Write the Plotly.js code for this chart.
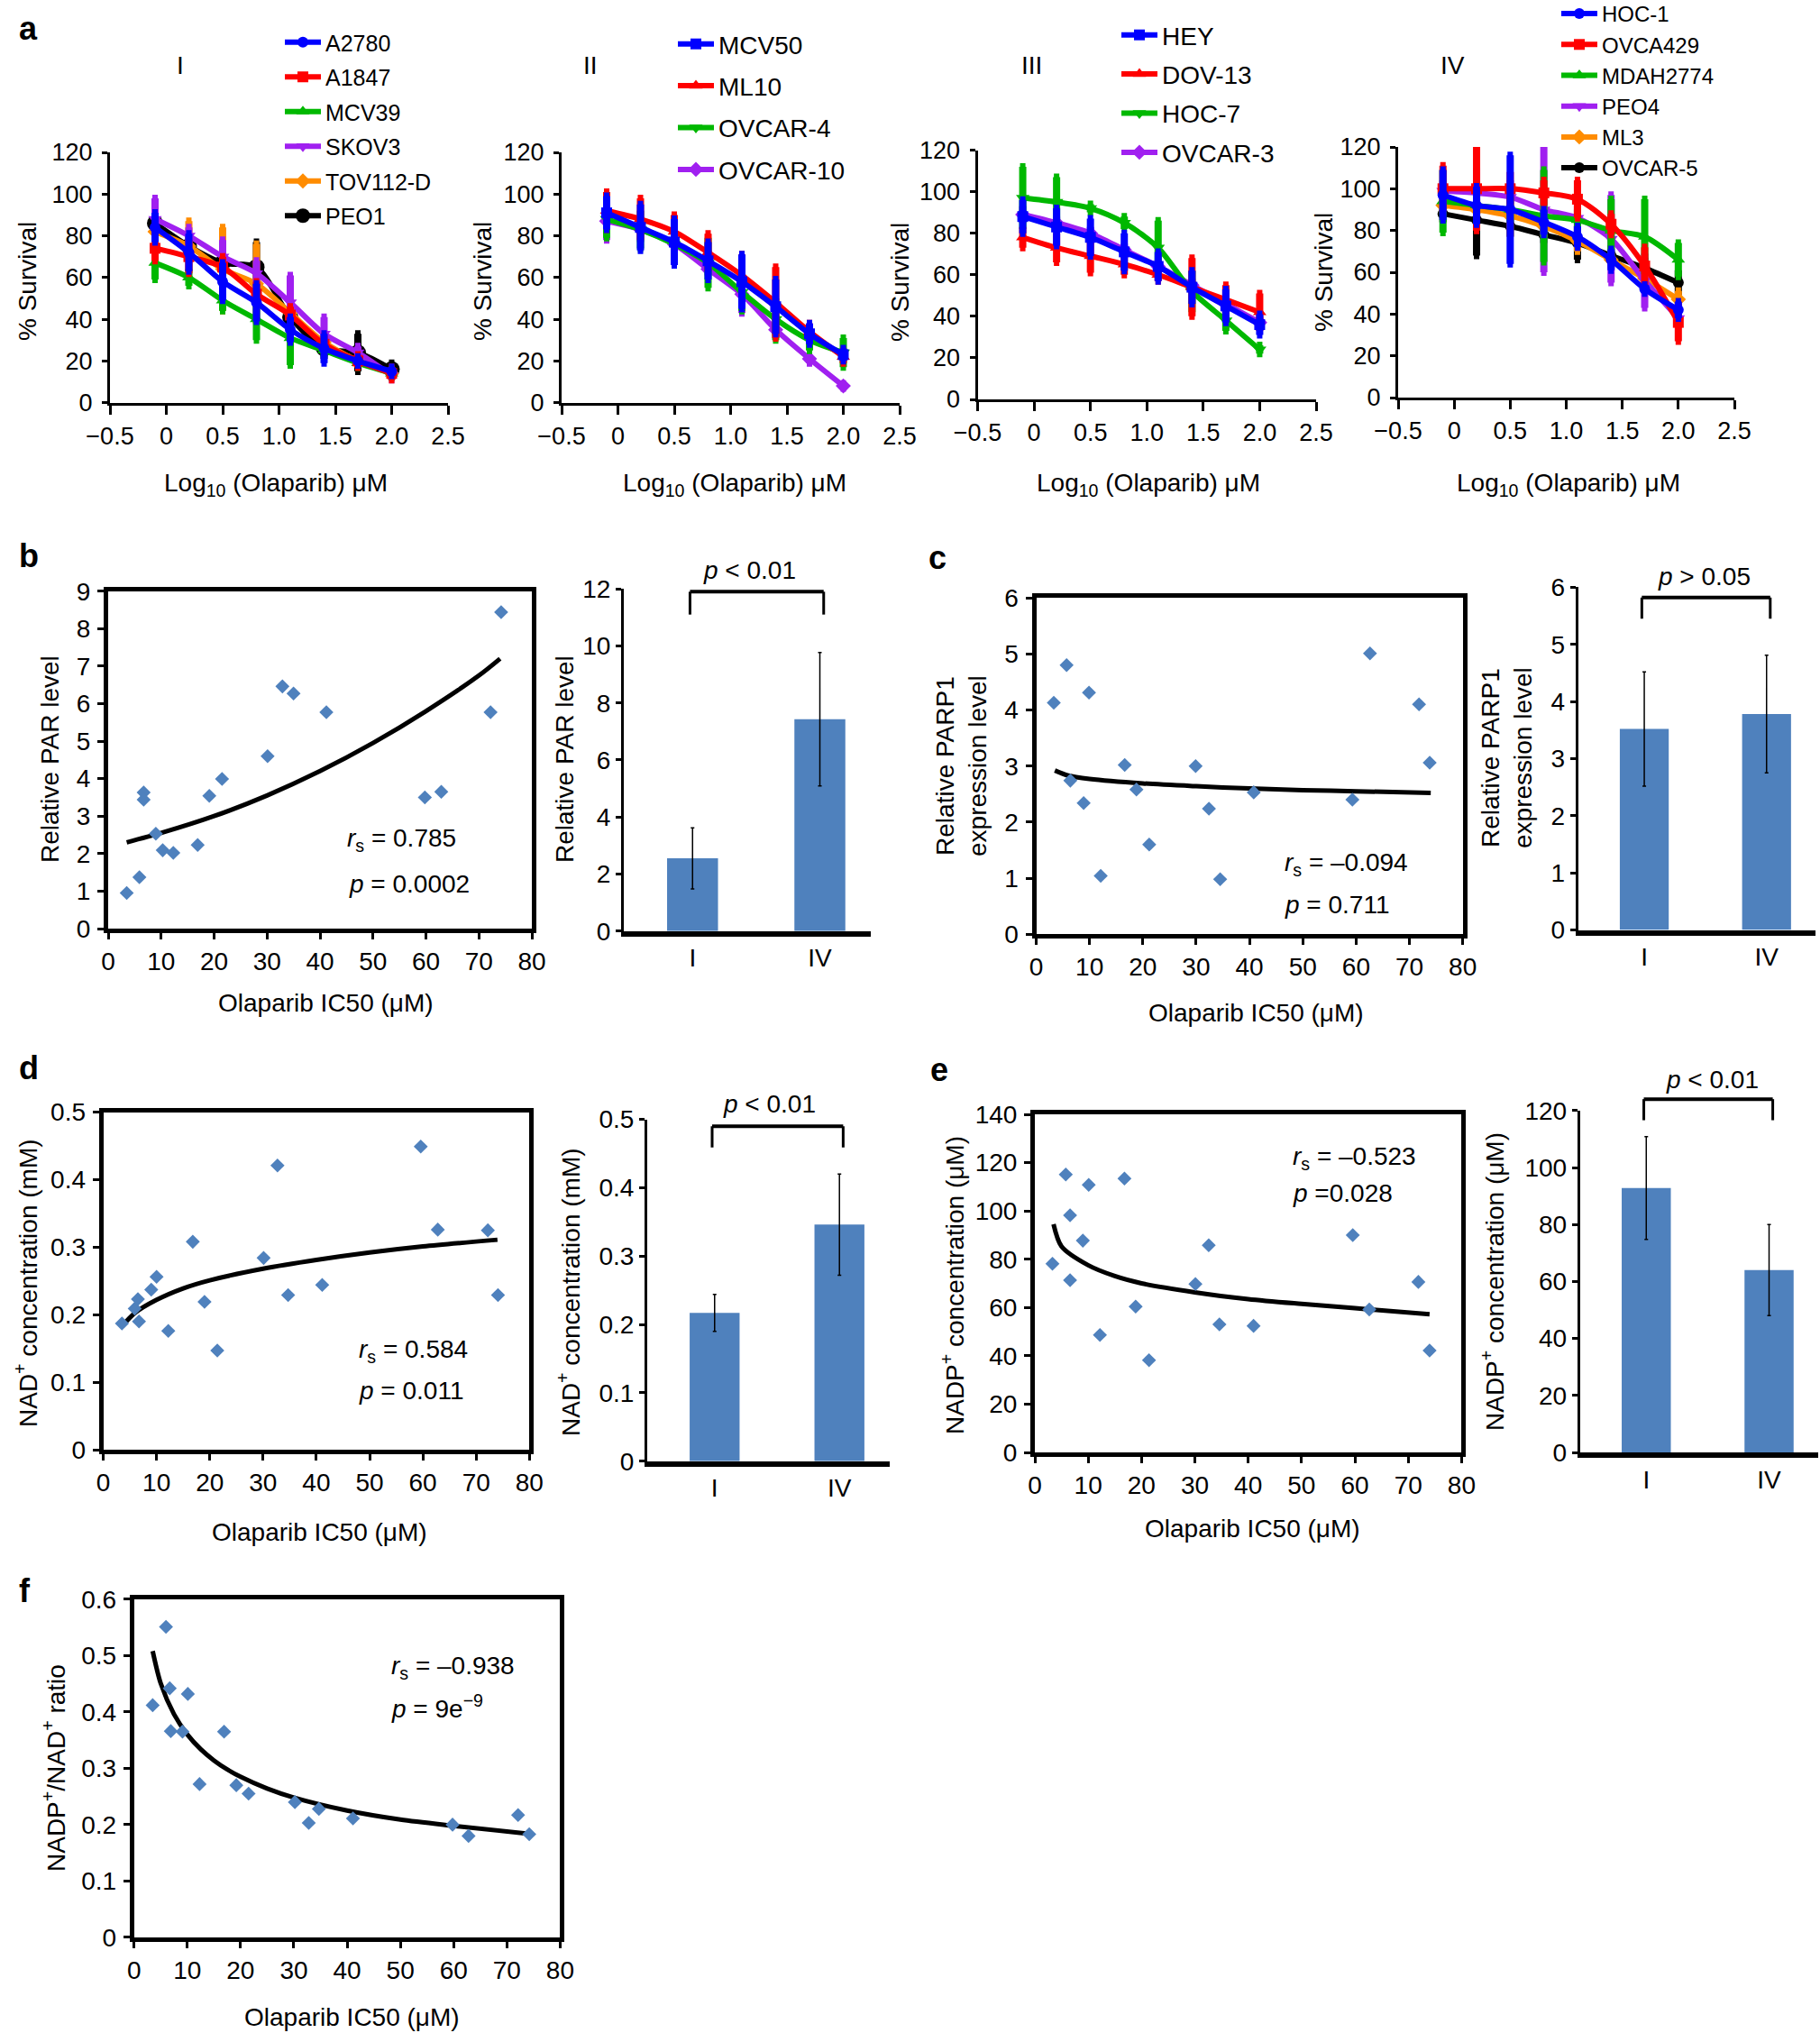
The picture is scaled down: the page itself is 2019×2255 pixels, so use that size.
<!DOCTYPE html>
<html><head><meta charset="utf-8">
<script src="https://cdn.plot.ly/plotly-3.0.1.min.js"></script>
<style>html,body{margin:0;padding:0;background:#fff}#chart{width:2019px;height:2255px}</style>
</head><body><div id="chart"></div>
<script>
const W = 2019, H = 2255;
const FONT = 'Liberation Sans, Arial, Helvetica, sans-serif';

// ---------- panel a data ----------
const xLog = [-0.1, 0.2, 0.5, 0.8, 1.1, 1.4, 1.7, 2.0];
const aTickVals = [-0.5, 0, 0.5, 1, 1.5, 2, 2.5];
const aTickText = ['\u22120.5', '0', '0.5', '1.0', '1.5', '2.0', '2.5'];

const p1Names = ['A2780', 'A1847', 'MCV39', 'SKOV3', 'TOV112-D', 'PEO1'];
const p1Vals = [
  [84, 72, 58, 48, 35, 26, 20, 15],
  [74, 70, 65, 52, 42, 28, 20, 14],
  [67, 60, 49, 40, 31, 25, 19, 14],
  [88, 80, 70, 62, 48, 33, 24, 13],
  [82, 75, 64, 57, 43, 29, 20, 14],
  [86, 75, 67, 65, 41, 26, 24, 16]];
const p1Errs = [
  [7, 9, 9, 9, 6, 7, 2, 2],
  [6, 8, 5, 6, 4, 4, 3, 3],
  [8, 4, 5, 10, 13, 3, 2, 2],
  [10, 4, 8, 6, 13, 8, 3, 2],
  [4, 12, 20, 19, 5, 4, 3, 2],
  [12, 6, 12, 12, 5, 5, 9, 3]];

const p2Names = ['MCV50', 'ML10', 'OVCAR-4', 'OVCAR-10'];
const p2Vals = [
  [91, 84, 77, 68, 58, 46, 33, 23],
  [92, 88, 82, 72, 61, 48, 34, 22],
  [88, 83, 76, 67, 53, 40, 30, 24],
  [87, 83, 76, 64, 52, 35, 21, 8]];
const p2Errs = [
  [8, 11, 11, 9, 13, 13, 5, 3],
  [9, 10, 8, 9, 10, 17, 4, 3],
  [9, 9, 10, 12, 9, 10, 5, 7],
  [9, 6, 6, 3, 9, 3, 2, 1]];

const p3Names = ['HEY', 'DOV-13', 'HOC-7', 'OVCAR-3'];
const p3Vals = [
  [88, 83, 78, 71, 64, 54, 45, 36],
  [78, 73, 69, 65, 60, 54, 48, 42],
  [97, 95, 92, 85, 73, 52, 38, 24],
  [89, 85, 80, 72, 64, 55, 46, 37]];
const p3Errs = [
  [8, 9, 9, 9, 7, 8, 8, 5],
  [5, 7, 8, 5, 3, 14, 7, 9],
  [15, 12, 2, 3, 13, 10, 5, 2],
  [4, 3, 3, 3, 3, 3, 3, 3]];

const p4Names = ['HOC-1', 'OVCA429', 'MDAH2774', 'PEO4', 'ML3', 'OVCAR-5'];
const p4Vals = [
  [97, 92, 90, 84, 77, 66, 52, 42],
  [100, 100, 100, 98, 95, 83, 63, 36],
  [94, 92, 90, 87, 85, 80, 77, 66],
  [99, 98, 96, 90, 86, 76, 56, 38],
  [92, 90, 87, 82, 75, 66, 57, 47],
  [88, 85, 82, 78, 74, 68, 62, 55]];
const p4Errs = [
  [12, 9, 26, 6, 5, 5, 2, 4],
  [11, 20, 8, 6, 9, 5, 9, 9],
  [15, 6, 6, 22, 5, 15, 18, 8],
  [5, 12, 8, 30, 8, 21, 13, 4],
  [4, 5, 10, 5, 5, 4, 4, 4],
  [4, 17, 5, 4, 8, 5, 5, 6]];

// ---------- panels b-f data ----------
const bX = [3.5, 5.9, 6.7, 6.7, 9.0, 10.3, 12.3, 16.9, 19.1, 21.5, 30.1, 32.9, 35.0, 41.2, 59.8, 62.9, 72.2, 74.2];
const bY = [0.95, 1.37, 3.63, 3.44, 2.53, 2.09, 2.02, 2.23, 3.54, 3.99, 4.6, 6.46, 6.27, 5.77, 3.50, 3.65, 5.77, 8.44];
const bFitX = [3.5, 10, 20, 30, 40, 50, 60, 70, 74];
const bFitY = [2.3, 2.55, 3.0, 3.55, 4.2, 4.95, 5.8, 6.75, 7.2];

const cX = [3.3, 5.7, 6.4, 8.9, 9.9, 12.1, 16.6, 18.8, 21.2, 29.9, 32.4, 34.5, 40.8, 59.3, 62.6, 71.8, 73.8];
const cY = [4.13, 4.80, 2.74, 2.34, 4.31, 1.04, 3.02, 2.58, 1.60, 3.0, 2.24, 0.98, 2.53, 2.40, 5.01, 4.10, 3.06];
const cFitX = [3.5, 6, 10, 20, 30, 40, 50, 60, 74];
const cFitY = [2.92, 2.83, 2.77, 2.69, 2.64, 2.6, 2.57, 2.55, 2.52];

const dX = [3.5, 5.9, 6.5, 6.7, 9.0, 10.0, 12.2, 16.8, 19.0, 21.4, 30.1, 32.7, 34.7, 41.1, 59.6, 62.8, 72.2, 74.1];
const dY = [0.187, 0.209, 0.223, 0.190, 0.237, 0.256, 0.176, 0.308, 0.219, 0.147, 0.284, 0.421, 0.229, 0.244, 0.449, 0.326, 0.325, 0.229];
const dFitX = [3.5, 6, 10, 15, 20, 30, 40, 50, 60, 74];
const dFitY = [0.183, 0.203, 0.222, 0.239, 0.251, 0.268, 0.281, 0.292, 0.301, 0.311];

const eX = [3.3, 5.8, 6.6, 6.6, 9.0, 10.1, 12.2, 16.8, 18.9, 21.4, 30.1, 32.6, 34.6, 41.0, 59.6, 62.7, 71.9, 74.0];
const eY = [78.1, 115.1, 98.2, 71.3, 87.7, 110.8, 48.6, 113.4, 60.4, 38.2, 69.7, 85.8, 53.0, 52.4, 90.0, 59.2, 70.6, 42.2];
const eFitX = [3.5, 5, 10, 15, 20, 30, 40, 50, 60, 74];
const eFitY = [94.5, 85.3, 77.5, 73, 70, 66.3, 63.5, 61.5, 59.7, 57.2];

const fX = [3.5, 6.0, 6.7, 6.9, 9.1, 10.1, 12.3, 16.9, 19.2, 21.5, 30.2, 32.8, 34.7, 41.1, 59.8, 62.8, 72.1, 74.2];
const fY = [0.412, 0.551, 0.442, 0.366, 0.365, 0.432, 0.272, 0.365, 0.270, 0.255, 0.240, 0.203, 0.228, 0.211, 0.200, 0.180, 0.217, 0.183];
const fFitX = [3.5, 5, 7.5, 10, 12.5, 15, 17.5, 20, 25, 30, 40, 50, 60, 74];
const fFitY = [0.508, 0.451, 0.396, 0.360, 0.334, 0.314, 0.298, 0.285, 0.264, 0.248, 0.225, 0.209, 0.198, 0.184];

const barCats = ['I', 'IV'];
const bBar = [2.55, 7.43], bBarErr = [1.07, 2.34];
const cBar = [3.52, 3.78], cBarErr = [1.0, 1.03];
const dBar = [0.217, 0.346], dBarErr = [0.027, 0.074];
const eBar = [92.8, 64.0], eBarErr = [18.0, 16.0];
// significance bracket: [top, tick bottom]
const bBracket = [11.9, 11.1], cBracket = [5.82, 5.45], dBracket = [0.490, 0.459], eBracket = [124, 116.6];

// ---------- styles ----------
const BLUE = '#0000FF', RED = '#FF0000', GREEN = '#00B800', PURPLE = '#A020F0', ORANGE = '#FF8C00', BLACK = '#000000';
const DOT = '#4F81BD';
const p1Style = [[BLUE, 'circle', 12], [RED, 'square', 12], [GREEN, 'triangle-up', 13], [PURPLE, 'triangle-down', 13], [ORANGE, 'diamond', 13], [BLACK, 'circle', 18]];
const p2Style = [[BLUE, 'square', 12], [RED, 'triangle-up', 13], [GREEN, 'triangle-down', 13], [PURPLE, 'diamond', 13]];
const p3Style = [[BLUE, 'square', 12], [RED, 'triangle-up', 13], [GREEN, 'triangle-down', 13], [PURPLE, 'diamond', 13]];
const p4Style = [[BLUE, 'circle', 12], [RED, 'square', 12], [GREEN, 'triangle-up', 13], [PURPLE, 'triangle-down', 13], [ORANGE, 'diamond', 13], [BLACK, 'circle', 12]];

const layout = {
  width: W, height: H,
  margin: {l: 0, r: 0, t: 0, b: 0, pad: 0, autoexpand: false},
  paper_bgcolor: '#ffffff', plot_bgcolor: 'rgba(0,0,0,0)',
  font: {family: FONT, color: '#000', size: 26},
  showlegend: true,
  annotations: [], shapes: []
};
const traces = [];

function setAxes(n, xpx, ypx, xopt, yopt) {
  const xk = n === 1 ? 'xaxis' : 'xaxis' + n, yk = n === 1 ? 'yaxis' : 'yaxis' + n;
  const xr = n === 1 ? 'x' : 'x' + n, yr = n === 1 ? 'y' : 'y' + n;
  const base = {showgrid: false, zeroline: false, showline: true, linecolor: '#000', ticks: 'outside', tickcolor: '#000', fixedrange: true, tickfont: {size: 28, color: '#000'}};
  layout[xk] = Object.assign({}, base, {domain: [xpx[0] / W, xpx[1] / W], anchor: yr}, xopt);
  layout[yk] = Object.assign({}, base, {domain: [1 - ypx[1] / H, 1 - ypx[0] / H], anchor: xr}, yopt);
  return [xr, yr];
}

// panel a axes
const AX = {range: [-0.5, 2.5], tickvals: aTickVals, ticktext: aTickText, linewidth: 3, ticklen: 10, tickwidth: 3, tickfont: {size: 27}, ticklabelstandoff: 1};
const AY = {range: [0, 120], tick0: 0, dtick: 20, linewidth: 3, ticklen: 6, tickwidth: 3, tickfont: {size: 27}, ticklabelstandoff: 5};
const a1 = setAxes(1, [122, 497], [169, 446.6], AX, AY);
const a2 = setAxes(2, [623, 998], [169, 446.6], AX, AY);
const a3 = setAxes(3, [1084.5, 1460], [166.5, 443], AX, AY);
const a4 = setAxes(4, [1551, 1924], [163, 441], AX, AY);

function addPanelA(names, vals, errs, styles, ax, legendId) {
  for (let i = names.length - 1; i >= 0; i--) {
    traces.push({
      type: 'scatter', mode: 'lines+markers', x: xLog, y: vals[i], name: names[i],
      xaxis: ax[0], yaxis: ax[1], legend: legendId, legendgroup: legendId + '_' + names[i], legendrank: 100 + i,
      line: {color: styles[i][0], width: 6, shape: 'spline', smoothing: 0.8},
      marker: {color: styles[i][0], symbol: styles[i][1], size: styles[i][2], line: {width: 0}},
      error_y: {type: 'data', array: errs[i], visible: true, color: styles[i][0], thickness: 8, width: 3},
      cliponaxis: false
    });
  }
}
addPanelA(p1Names, p1Vals, p1Errs, p1Style, a1, 'legend');
addPanelA(p2Names, p2Vals, p2Errs, p2Style, a2, 'legend2');
addPanelA(p3Names, p3Vals, p3Errs, p3Style, a3, 'legend3');
addPanelA(p4Names, p4Vals, p4Errs, p4Style, a4, 'legend4');

function legendCfg(textX, top, size, gap) {
  return {x: (textX - 50) / W, y: 1 - top / H, xanchor: 'left', yanchor: 'top', font: {size: size, color: '#000'},
    tracegroupgap: gap, itemwidth: 40, bgcolor: 'rgba(0,0,0,0)', borderwidth: 0, traceorder: 'grouped'};
}
layout.legend = legendCfg(361, 24, 25, 3);
layout.legend2 = legendCfg(797, 24, 28, 7);
layout.legend3 = legendCfg(1289, 14, 28, 4);
layout.legend4 = legendCfg(1777, -7, 24, 0);

// scatter + bar axes
const SX = {range: [0, 80], tick0: 0, dtick: 10, linewidth: 5, mirror: true, ticklen: 7, tickwidth: 3, ticklabelstandoff: 0};
const SY = {linewidth: 5, mirror: true, ticklen: 7, tickwidth: 3, ticklabelstandoff: 2};
const BX = {type: 'category', categoryorder: 'array', categoryarray: barCats, range: [-0.54, 1.4], ticks: '', linewidth: 6, ticklabelstandoff: 0};
const BY = {linewidth: 3, ticklen: 6, tickwidth: 3, ticklabelstandoff: 0};

const bS = setAxes(5, [120, 590], [655.7, 1030], SX, Object.assign({}, SY, {range: [0, 9], tick0: 0, dtick: 1}));
const bB = setAxes(6, [692, 966], [653.2, 1032.7], BX, Object.assign({}, BY, {range: [0, 12], tick0: 0, dtick: 2}));
const cS = setAxes(7, [1149.5, 1622.7], [663.2, 1036.2], SX, Object.assign({}, SY, {range: [0, 6], tick0: 0, dtick: 1}));
const cB = setAxes(8, [1750.8, 2014], [651.4, 1031.6], BX, Object.assign({}, BY, {range: [0, 6], tick0: 0, dtick: 1}));
const dS = setAxes(9, [114.6, 587.3], [1233.6, 1608], SX, Object.assign({}, SY, {range: [0, 0.5], tick0: 0, dtick: 0.1}));
const dB = setAxes(10, [718, 986.6], [1241.6, 1620.7], BX, Object.assign({}, BY, {range: [0, 0.5], tick0: 0, dtick: 0.1}));
const eS = setAxes(11, [1148, 1621.4], [1236, 1611], SX, Object.assign({}, SY, {range: [0, 140], tick0: 0, dtick: 20}));
const eB = setAxes(12, [1752.7, 2017], [1231.8, 1611], BX, Object.assign({}, BY, {range: [0, 120], tick0: 0, dtick: 20}));
const fS = setAxes(13, [148.7, 621.4], [1773.9, 2148.9], SX, Object.assign({}, SY, {range: [0, 0.6], tick0: 0, dtick: 0.1}));

function addScatter(ax, xs, ys, fx, fy) {
  traces.push({type: 'scatter', mode: 'lines', x: fx, y: fy, xaxis: ax[0], yaxis: ax[1], showlegend: false,
    line: {color: '#000', width: 5, shape: 'spline', smoothing: 0.8}});
  traces.push({type: 'scatter', mode: 'markers', x: xs, y: ys, xaxis: ax[0], yaxis: ax[1], showlegend: false,
    marker: {symbol: 'diamond', size: 12, color: DOT, line: {width: 0}}, cliponaxis: false});
}
addScatter(bS, bX, bY, bFitX, bFitY);
addScatter(cS, cX, cY, cFitX, cFitY);
addScatter(dS, dX, dY, dFitX, dFitY);
addScatter(eS, eX, eY, eFitX, eFitY);
addScatter(fS, fX, fY, fFitX, fFitY);

function addBar(ax, vals, errs, bracket, yMax, pText, pX, pY) {
  traces.push({type: 'bar', x: barCats, y: vals, xaxis: ax[0], yaxis: ax[1], showlegend: false, width: 0.4,
    marker: {color: DOT, line: {width: 0}},
    error_y: {type: 'data', array: errs, visible: true, color: '#000', thickness: 1.5, width: 2}});
  const yd = ax[1] + ' domain';
  layout.shapes.push({type: 'line', xref: ax[0], yref: yd, x0: -0.02, x1: 1.03, y0: bracket[0] / yMax, y1: bracket[0] / yMax, line: {color: '#000', width: 4}});
  layout.shapes.push({type: 'line', xref: ax[0], yref: yd, x0: -0.02, x1: -0.02, y0: bracket[0] / yMax, y1: bracket[1] / yMax, line: {color: '#000', width: 3}});
  layout.shapes.push({type: 'line', xref: ax[0], yref: yd, x0: 1.03, x1: 1.03, y0: bracket[0] / yMax, y1: bracket[1] / yMax, line: {color: '#000', width: 3}});
  layout.annotations.push({xref: ax[0], yref: yd, x: pX, y: pY / yMax, text: pText, showarrow: false, xanchor: 'center', yanchor: 'middle', font: {size: 28, color: '#000'}});
}
addBar(bB, bBar, bBarErr, bBracket, 12, '<i>p</i> &lt; 0.01', 0.45, 12.67);
addBar(cB, cBar, cBarErr, cBracket, 6, '<i>p</i> &gt; 0.05', 0.49, 6.19);
addBar(dB, dBar, dBarErr, dBracket, 0.5, '<i>p</i> &lt; 0.01', 0.44, 0.5225);
addBar(eB, eBar, eBarErr, eBracket, 120, '<i>p</i> &lt; 0.01', 0.54, 131);

// ---------- text ----------
function pann(px, py, text, size, extra) {
  layout.annotations.push(Object.assign({xref: 'paper', yref: 'paper', x: px / W, y: 1 - py / H, text: text, showarrow: false,
    xanchor: 'center', yanchor: 'middle', font: {size: size, color: '#000'}}, extra || {}));
}
function dann(ax, x, y, text) {
  layout.annotations.push({xref: ax[0], yref: ax[1], x: x, y: y, text: text, showarrow: false, xanchor: 'left', yanchor: 'middle', font: {size: 28, color: '#000'}});
}
const V = {textangle: -90};
// panel letters
pann(31, 31, '<b>a</b>', 36); pann(32, 616, '<b>b</b>', 36); pann(1040, 619, '<b>c</b>', 36);
pann(32, 1184, '<b>d</b>', 36); pann(1042, 1186, '<b>e</b>', 36); pann(27, 1764, '<b>f</b>', 36);
// panel a
pann(200, 72, 'I', 28); pann(655, 72, 'II', 28); pann(1144, 72, 'III', 28); pann(1611, 72, 'IV', 28);
const logT = 'Log<sub>10</sub> (Olaparib) \u03bcM';
pann(30, 312, '% Survival', 28, V); pann(535, 312, '% Survival', 28, V); pann(998, 313, '% Survival', 28, V); pann(1468, 302, '% Survival', 28, V);
pann(306, 537, logT, 28); pann(815, 537, logT, 28); pann(1274, 537, logT, 28); pann(1740, 537, logT, 28);
const icT = 'Olaparib IC50 (\u03bcM)';
// b
pann(55, 842, 'Relative PAR level', 28, V); pann(361, 1112, icT, 28); pann(626, 842, 'Relative PAR level', 28, V);
dann(bS, 44.8, 2.36, '<i>r</i><sub>s</sub> = 0.785'); dann(bS, 45.1, 1.2, '<i>p</i> = 0.0002');
// c
pann(1066, 850, 'Relative PARP1<br>expression level', 28, V); pann(1393, 1123, icT, 28); pann(1671, 841, 'Relative PARP1<br>expression level', 28, V);
dann(cS, 46.2, 1.25, '<i>r</i><sub>s</sub> = \u20130.094'); dann(cS, 46.2, 0.53, '<i>p</i> = 0.711');
// d
pann(29, 1423, 'NAD<sup>+</sup> concentration (mM)', 28, V); pann(354, 1699, icT, 28); pann(631, 1433, 'NAD<sup>+</sup> concentration (mM)', 28, V);
dann(dS, 47.6, 0.1456, '<i>r</i><sub>s</sub> = 0.584'); dann(dS, 47.6, 0.087, '<i>p</i> = 0.011');
// e
pann(1057, 1426, 'NADP<sup>+</sup> concentration (\u03bcM)', 28, V); pann(1389, 1695, icT, 28); pann(1656, 1422, 'NADP<sup>+</sup> concentration (\u03bcM)', 28, V);
dann(eS, 48, 121.9, '<i>r</i><sub>s</sub> = \u20130.523'); dann(eS, 48, 107.3, '<i>p</i> =0.028');
// f
pann(60, 1961, 'NADP<sup>+</sup>/NAD<sup>+</sup> ratio', 28, V); pann(390, 2237, icT, 28);
dann(fS, 48, 0.479, '<i>r</i><sub>s</sub> = \u20130.938'); dann(fS, 48, 0.41, '<i>p</i> = 9e<sup>\u22129</sup>');

Plotly.newPlot('chart', traces, layout, {staticPlot: true, displayModeBar: false});
</script></body></html>
